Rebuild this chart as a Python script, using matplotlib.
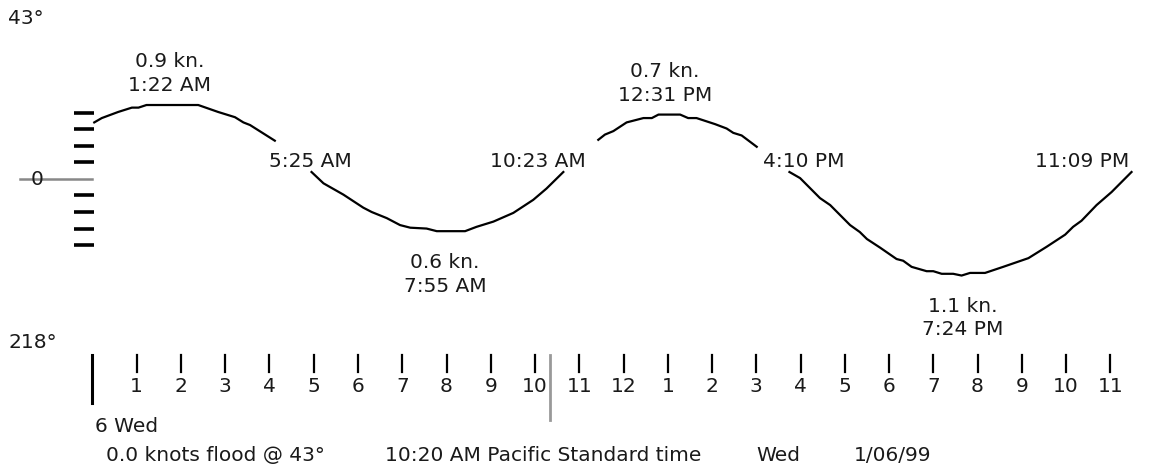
import matplotlib
matplotlib.use("Agg")
import matplotlib.pyplot as plt

# tidal current curve, hours from midnight vs knots (flood +, ebb -)
seg1_h = [0.04, 0.21, 0.58, 0.89, 1.04, 1.22, 2.39, 2.84, 3.22, 3.41, 3.56, 4.12]
seg1_kn = [0.65, 0.70, 0.77, 0.82, 0.82, 0.85, 0.85, 0.77, 0.71, 0.65, 0.62, 0.44]
seg2_h = [4.95, 5.22, 5.67, 6.12, 6.31, 6.65, 6.95, 7.18, 7.55, 7.78, 8.42, 8.68,
          9.06, 9.51, 9.96, 10.26, 10.64]
seg2_kn = [0.08, -0.05, -0.18, -0.33, -0.38, -0.45, -0.53, -0.56, -0.57, -0.60, -0.60,
           -0.55, -0.49, -0.39, -0.24, -0.11, 0.08]
seg3_h = [11.43, 11.58, 11.77, 12.07, 12.45, 12.64, 12.79, 13.28, 13.46, 13.65, 14.07,
          14.33, 14.48, 14.67, 15.01]
seg3_kn = [0.45, 0.51, 0.55, 0.65, 0.70, 0.70, 0.74, 0.74, 0.70, 0.70, 0.63, 0.58,
           0.53, 0.50, 0.37]
seg4_h = [15.75, 15.99, 16.44, 16.67, 17.12, 17.34, 17.50, 17.80, 18.17, 18.32, 18.51,
          18.85, 19.00, 19.19, 19.45, 19.64, 19.83, 20.17, 20.58, 21.15, 21.56, 21.98,
          22.16, 22.35, 22.69, 23.03, 23.48]
seg4_kn = [0.08, 0.01, -0.22, -0.30, -0.53, -0.61, -0.69, -0.79, -0.92, -0.94, -1.01,
           -1.06, -1.06, -1.09, -1.09, -1.11, -1.08, -1.08, -1.01, -0.91, -0.78, -0.64,
           -0.55, -0.48, -0.30, -0.15, 0.08]

# event labels (text, x in hours, y in knots)
events = ["0.9 kn.\n1:22 AM", "5:25 AM", "0.6 kn.\n7:55 AM", "10:23 AM",
          "0.7 kn.\n12:31 PM", "4:10 PM", "1.1 kn.\n7:24 PM", "11:09 PM"]
event_x = [1.75, 4.92, 7.97, 10.07, 12.94, 16.08, 19.67, 22.36]
event_y = [1.21, 0.20, -1.10, 0.20, 1.10, 0.20, -1.60, 0.20]

hours = list(range(1, 24))
hour_labels = [str((h - 1) % 12 + 1) for h in hours]
scale_ticks = [0.76, 0.57, 0.38, 0.19, -0.19, -0.38, -0.57, -0.76]
now_hour = 10 + 20 / 60

top_label = "43°"
bottom_label = "218°"
day_label = "6 Wed"
footer_parts = ["0.0 knots flood @ 43°", "10:20 AM Pacific Standard time", "Wed", "1/06/99"]
footer_x = [0.305, 6.6, 15.0, 17.2]

plt.rcParams['font.family'] = ['DejaVu Sans']
txt = '#1a1a1a'
fs = 14.5

fig = plt.figure(figsize=(11.51, 4.76), dpi=100)
ax = fig.add_axes([0, 0, 1, 1])
ax.set_xlim(-2.09, 23.92)
ax.set_ylim(-3.414, 2.057)
ax.axis('off')

for hh, kk in [(seg1_h, seg1_kn), (seg2_h, seg2_kn), (seg3_h, seg3_kn), (seg4_h, seg4_kn)]:
    ax.plot(hh, kk, color='black', lw=1.6, solid_joinstyle='round')

for s, x, y in zip(events, event_x, event_y):
    ax.text(x, y, s, ha='center', va='center', fontsize=fs, color=txt, linespacing=1.3)

# knot scale on the left
for t in scale_ticks:
    ax.plot([-0.42, 0.03], [t, t], color='black', lw=2.6, solid_capstyle='butt')
ax.text(-1.25, -0.01, "0", ha='center', va='center', fontsize=fs, color=txt)
ax.plot([-1.64, 0.0], [0, 0], color='#888888', lw=1.8)

ax.text(-1.9, 1.85, top_label, ha='left', va='center', fontsize=fs, color=txt)
ax.text(-1.9, -1.885, bottom_label, ha='left', va='center', fontsize=fs, color=txt)

# hour axis
ax.plot([0, 0], [-2.02, -2.575], color='black', lw=2.2)
for h, lab in zip(hours, hour_labels):
    ax.plot([h, h], [-2.02, -2.22], color='black', lw=1.6)
    ax.text(h, -2.39, lab, ha='center', va='center', fontsize=fs, color=txt)
ax.plot([now_hour, now_hour], [-2.02, -2.77], color='#999999', lw=2)

ax.text(0.06, -2.85, day_label, ha='left', va='center', fontsize=fs, color=txt)
for s, x in zip(footer_parts, footer_x):
    ax.text(x, -3.18, s, ha='left', va='center', fontsize=fs, color=txt)

fig.savefig('out.png', dpi=100, facecolor='white')
